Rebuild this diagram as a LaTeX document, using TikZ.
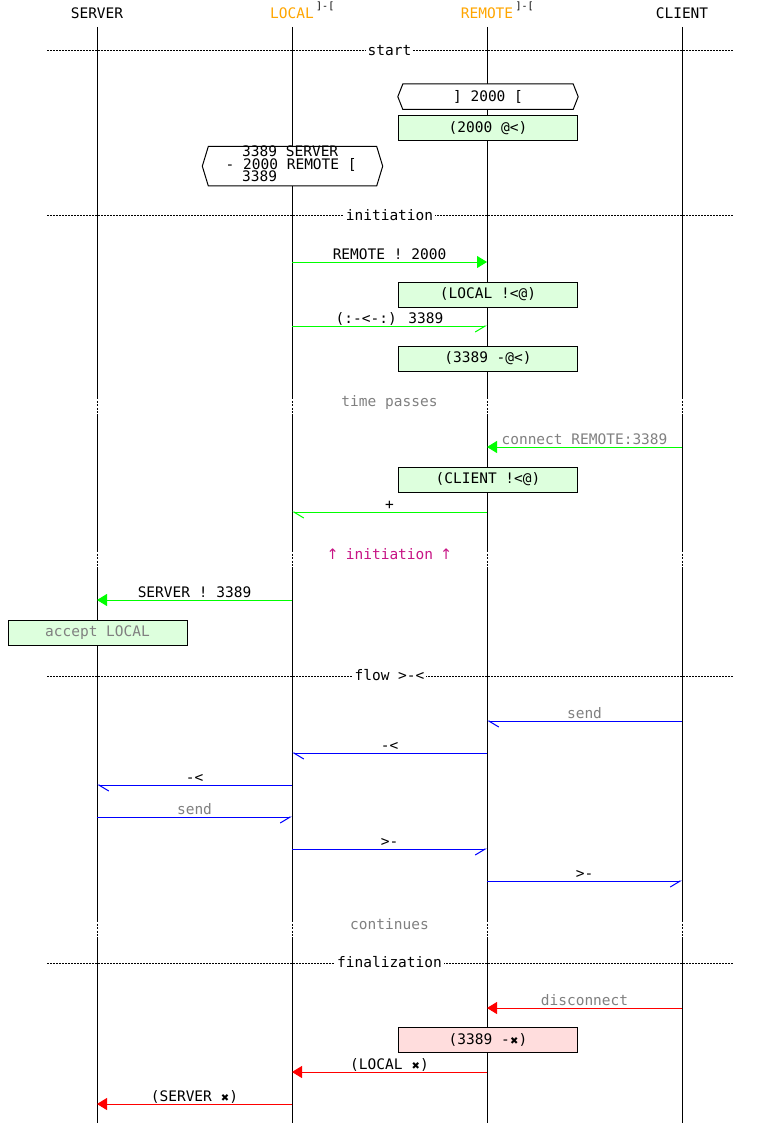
\documentclass[tikz,border=0pt]{standalone}
\usepackage{fontspec}
\setmainfont{DejaVu Sans Mono}
\newfontfamily\symf{DejaVu Sans}
\usetikzlibrary{arrows.meta}
\definecolor{notegreen}{RGB}{221,255,221}
\definecolor{notepink}{RGB}{255,221,221}
\definecolor{limeg}{RGB}{0,255,0}
\definecolor{hdrorange}{RGB}{255,165,0}
\definecolor{txtgray}{RGB}{128,128,128}
\definecolor{magtxt}{RGB}{199,21,133}
\definecolor{msgblue}{RGB}{0,0,255}
\definecolor{msgred}{RGB}{255,0,0}
\newcommand\xmark{\makebox[8.73pt]{\symf\fontsize{10}{10}\selectfont ✖}}
\newcommand\upar{\makebox[8.73pt]{\symf ↑}}
\newcommand\seqmsg[5]{%
  \coordinate (#1a) at (#2,#4);
  \coordinate (#1b) at (#3,#4);
  \draw[#5] (#1a) -- (#1b);
}
\begin{document}
\begin{tikzpicture}[x=1pt,y=-1pt,
  font=\fontsize{14.5}{13}\selectfont,
  hdr/.style={anchor=base, inner sep=0pt},
  supstyle/.style={anchor=base west, inner sep=0pt, font=\fontsize{10}{10}\selectfont},
  life/.style={line width=1pt, black},
  lifedot/.style={line width=1pt, black, dash pattern=on 2pt off 1.5pt},
  divider/.style={line width=1pt, black, dash pattern=on 2pt off 1pt},
  divlabel/.style={anchor=base, fill=white, inner xsep=2pt, inner ysep=1pt},
  delaytxt/.style={anchor=base, inner sep=0pt, text=txtgray},
  mlbl/.style={anchor=base, inner sep=0pt},
  notebox/.style={draw, line width=1pt, fill=notegreen, minimum width=179pt, minimum height=25pt, inner sep=0pt},
  hexline/.style={draw, line width=1pt, fill=white},
  gfull/.style={line width=1pt, draw=limeg, fill=limeg, -{Triangle[length=10pt,width=12pt]}},
  ghalfR/.style={line width=1pt, draw=limeg, -{Straight Barb[right,length=10pt,width=12pt]}},
  ghalfL/.style={line width=1pt, draw=limeg, -{Straight Barb[left,length=10pt,width=12pt]}},
  bhalfR/.style={line width=1pt, draw=msgblue, -{Straight Barb[right,length=10pt,width=12pt]}},
  bhalfL/.style={line width=1pt, draw=msgblue, -{Straight Barb[left,length=10pt,width=12pt]}},
  rfull/.style={line width=1pt, draw=msgred, fill=msgred, -{Triangle[length=10pt,width=12pt]}}
]
\useasboundingbox (0,0) rectangle (780,1123);

% headers
\node[hdr] (hS) at (97,18.5) {SERVER};
\node[hdr, text=hdrorange] (hL) at (292,18.5) {LOCAL};
\node[supstyle] (hLs) at ([xshift=2pt,yshift=8.5pt]hL.base east) {]-[};
\node[hdr, text=hdrorange] (hR) at (487,18.5) {REMOTE};
\node[supstyle] (hRs) at ([xshift=2pt,yshift=8.5pt]hR.base east) {]-[};
\node[hdr] (hC) at (682,18.5) {CLIENT};

% lifelines
\foreach \x in {97,292,487,682} {
  \draw[life] (\x,27) -- (\x,397);
  \draw[lifedot] (\x,397) -- (\x,414);
  \draw[life] (\x,414) -- (\x,550);
  \draw[lifedot] (\x,550) -- (\x,567);
  \draw[life] (\x,567) -- (\x,920);
  \draw[lifedot] (\x,920) -- (\x,937);
  \draw[life] (\x,937) -- (\x,1123);
}

% dividers
\draw[divider] (47,51) -- (733,51);
\node[divlabel] (dv1) at (389.5,55.5) {start};
\draw[divider] (47,216) -- (733,216);
\node[divlabel] (dv2) at (389.5,220.5) {initiation};
\draw[divider] (47,676) -- (733,676);
\node[divlabel] (dv3) at (389.5,680.5) {flow >-<};
\draw[divider] (47,963) -- (733,963);
\node[divlabel] (dv4) at (389.5,967.5) {finalization};

% ref hexagons
\node[minimum width=170pt, minimum height=25pt, inner sep=0pt] (r1) at (488,96.7) {};
\path[hexline] (r1.north west) -- (r1.north east) -- ([xshift=5pt]r1.east) -- (r1.south east) -- (r1.south west) -- ([xshift=-5pt]r1.west) -- cycle;
\node (r1t) at (r1.center) {] 2000 [};

\node[notebox] (n1) at (488,128.5) {(2000 @<)};

\node[minimum width=168pt, minimum height=39pt, inner sep=0pt] (r2) at (292.5,166.2) {};
\path[hexline] (r2.north west) -- (r2.north east) -- ([xshift=6pt]r2.east) -- (r2.south east) -- (r2.south west) -- ([xshift=-6pt]r2.west) -- cycle;
\node[anchor=base west, inner sep=0pt] (r2a) at (242,157) {3389 SERVER};
\node[anchor=base west, inner sep=0pt] (r2b) at (225.5,169.5) {- 2000 REMOTE [};
\node[anchor=base west, inner sep=0pt] (r2c) at (242,182) {3389};

% initiation messages
\seqmsg{m1}{292}{487}{262}{gfull}
\node[mlbl] (t1) at (389.5,259.5) {REMOTE ! 2000};
\node[notebox] (n2) at (488,294.5) {(LOCAL !<@)};
\seqmsg{m2}{292}{487}{326}{ghalfR}
\node[mlbl] (t2) at (389.5,323.5) {(:-<-:) 3389};
\node[notebox] (n3) at (488,358.5) {(3389 -@<)};

\node[delaytxt] (d1) at (389.5,406) {time passes};

\seqmsg{m3}{682}{487}{447}{gfull}
\node[mlbl, text=txtgray] (t3) at (584.5,444.5) {connect REMOTE:3389};
\node[notebox] (n4) at (488,479.5) {(CLIENT !<@)};
\seqmsg{m4}{487}{292}{512}{ghalfL}
\node[mlbl] (t4) at (389.5,509) {+};

\node[delaytxt, text=magtxt] (d2) at (389.5,559) {\upar{} initiation \upar};

\seqmsg{m5}{292}{97}{600}{gfull}
\node[mlbl] (t5) at (194.5,597.5) {SERVER ! 3389};
\node[notebox, text=txtgray] (n5) at (97.5,632.5) {accept LOCAL};

% flow
\seqmsg{m6}{682}{487}{721}{bhalfL}
\node[mlbl, text=txtgray] (t6) at (584.5,718.5) {send};
\seqmsg{m7}{487}{292}{753}{bhalfL}
\node[mlbl] (t7) at (389.5,750.5) {-<};
\seqmsg{m8}{292}{97}{785}{bhalfL}
\node[mlbl] (t8) at (194.5,782.5) {-<};
\seqmsg{m9}{97}{292}{817}{bhalfR}
\node[mlbl, text=txtgray] (t9) at (194.5,814.5) {send};
\seqmsg{m10}{292}{487}{849}{bhalfR}
\node[mlbl] (t10) at (389.5,846.5) {>-};
\seqmsg{m11}{487}{682}{881}{bhalfR}
\node[mlbl] (t11) at (584.5,878.5) {>-};

\node[delaytxt] (d3) at (389.5,929) {continues};

% finalization
\seqmsg{m12}{682}{487}{1008}{rfull}
\node[mlbl, text=txtgray] (t12) at (584.5,1005.5) {disconnect};
\node[notebox, fill=notepink] (n6) at (488,1040) {(3389 -\xmark)};
\seqmsg{m13}{487}{292}{1072}{rfull}
\node[mlbl] (t13) at (389.5,1069.5) {(LOCAL \xmark)};
\seqmsg{m14}{292}{97}{1104}{rfull}
\node[mlbl] (t14) at (194.5,1101.5) {(SERVER \xmark)};
\end{tikzpicture}
\end{document}
